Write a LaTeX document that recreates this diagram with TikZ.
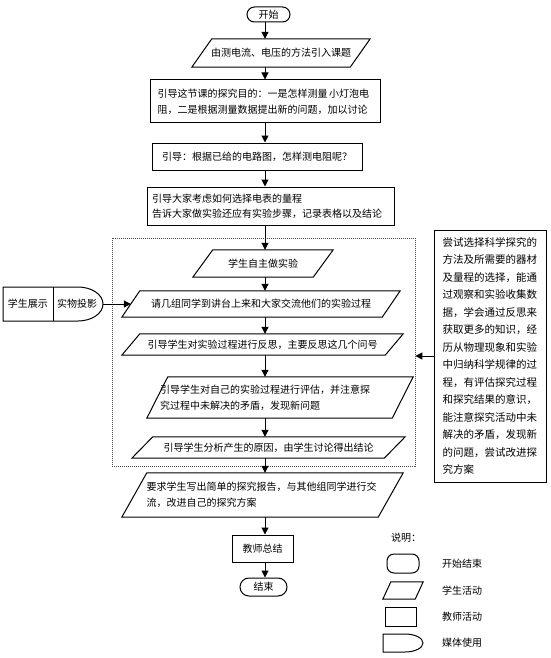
\documentclass[tikz,border=0pt]{standalone}
\usepackage{fontspec}
\setmainfont{Noto Sans CJK SC}
\usetikzlibrary{arrows.meta,shapes.misc}
\newcommand\drawpara[2]{\draw[line width=1pt] ([xshift=-#2pt]#1.south west) -- ([xshift=-#2pt]#1.south east) -- ([xshift=#2pt]#1.north east) -- ([xshift=#2pt]#1.north west) -- cycle;}
\tikzset{
  every node/.style={font=\fontsize{10}{16}\selectfont, inner sep=2pt},
  box/.style={draw, line width=1pt, rectangle},
  term/.style={draw, line width=1pt, rounded rectangle},
  para/.style={rectangle},
  arr/.style={line width=1pt, -{Triangle[length=7pt,width=7pt]}},
  grpbox/.style={draw=black!70, line width=0.8pt, dash pattern=on 1pt off 1pt},
  outline/.style={line width=1pt},
}
\begin{document}
\begin{tikzpicture}[x=1pt,y=-1pt]
\useasboundingbox[fill=white] (0,0) rectangle (550,658);

% dotted group
\node[grpbox, minimum width=303pt, minimum height=228pt] (grp) at (263.5,352) {};

% main flow
\node[term, minimum width=47pt, minimum height=15pt] (start) at (268.5,14.5) {开始};
\node[para, minimum width=158pt, minimum height=28pt] (p1) at (281,53) {由测电流、电压的方法引入课题};
\drawpara{p1}{10}
\node[box, minimum width=230pt, minimum height=43pt, text width=215pt, inner xsep=7.5pt, align=left] (b2) at (265,101.5)
  {引导这节课的探究目的：一是怎样测量\,小灯泡电\\阻，二是根据测量数据提出新的问题，加以讨论};
\node[box, minimum width=210pt, minimum height=27pt] (b3) at (257,156.5) {引导：根据已给的电路图，怎样测电阻呢？};
\node[box, minimum width=247pt, minimum height=38pt, text width=237pt, inner xsep=5pt, align=left, font=\fontsize{10}{15}\selectfont] (b4) at (270.5,206)
  {引导大家考虑如何选择电表的量程\\告诉大家做实验还应有实验步骤，记录表格以及结论};

\node[para, minimum width=120pt, minimum height=27pt] (p2) at (263,263.5) {学生自主做实验};
\drawpara{p2}{10}
\node[para, minimum width=260pt, minimum height=26pt] (p3) at (261,304) {请几组同学到讲台上来和大家交流他们的实验过程};
\drawpara{p3}{9}
\node[para, minimum width=263pt, minimum height=21pt] (p4) at (262.5,344.5) {引导学生对实验过程进行反思，主要反思这几个问号};
\drawpara{p4}{9}
\node[para, minimum width=245pt, minimum height=41pt, text width=240pt, inner xsep=2.5pt, align=left] (p5) at (280,397.5)
  {引导学生对自己的实验过程进行评估，并注意探\\究过程中未解决的矛盾，发现新问题};
\drawpara{p5}{10.5}
\node[para, minimum width=252pt, minimum height=21pt] (p6) at (268.5,447.5) {引导学生分析产生的原因，由学生讨论得出结论};
\drawpara{p6}{10.5}
\node[para, minimum width=256pt, minimum height=44pt, text width=232pt, inner xsep=12pt, align=left] (p7) at (262.5,495)
  {要求学生写出简单的探究报告，与其他组同学进行交\\流，改进自己的探究方案};
\drawpara{p7}{12.5}
\node[box, minimum width=61pt, minimum height=27pt] (b5) at (262.5,548.5) {教师总结};
\node[term, minimum width=51pt, minimum height=18pt] (stop) at (263.5,587) {结束};

% media
\node[minimum width=100pt, minimum height=34pt, inner sep=0pt] (media) at (53,304) {};
\draw[outline] (3,287) -- (78,287) arc[start angle=90,end angle=-90,x radius=25pt,y radius=17pt] -- (3,321) -- cycle;
\draw[outline] (53,287) -- (53,321);
\node (ms1) at (28,304) {学生展示};
\node (ms2) at (77,304) {实物投影};

% explanation box
\node[box, minimum width=112pt, minimum height=252pt, text width=95pt, inner xsep=8.5pt, align=left, font=\fontsize{10.5}{17.5}\selectfont] (expl) at (490,356)
  {尝试选择科学探究的\\方法及所需要的器材\\及量程的选择，能通\\过观察和实验收集数\\据，学会通过反思来\\获取更多的知识，经\\历从物理现象和实验\\中归纳科学规律的过\\程，有评估探究过程\\和探究结果的意识，\\能注意探究活动中未\\解决的矛盾，发现新\\的问题，尝试改进探\\究方案};

% legend
\node[anchor=west] (lgt) at (389,538) {说明：};
\node[draw, line width=1pt, rounded corners=7pt, minimum width=32pt, minimum height=19pt] (lg1) at (403,563.5) {};
\node[para, minimum width=32pt, minimum height=17pt, inner sep=0pt] (lg2) at (403,590.5) {};
\drawpara{lg2}{4}
\node[box, minimum width=31pt, minimum height=19pt] (lg3) at (400.5,616.5) {};
\node[minimum width=40pt, minimum height=18pt, inner sep=0pt] (lg4) at (403,643) {};
\draw[outline] (383,634) -- (405,634) arc[start angle=90,end angle=-90,x radius=18pt,y radius=9pt] -- (383,652) -- cycle;
\node[anchor=west] (l1) at (440,563.5) {开始结束};
\node[anchor=west] (l2) at (440,590.5) {学生活动};
\node[anchor=west] (l3) at (440,616.5) {教师活动};
\node[anchor=west] (l4) at (440,643) {媒体使用};

% connectors
\coordinate (ax) at (265,0);
\foreach \a/\b in {start/p1,p1/b2,b2/b3,b3/b4,b4/p2,p2/p3,p3/p4,p4/p5,p5/p6,p6/p7,p7/b5,b5/stop}
  \draw[arr] (\a.south -| ax) -- (\b.north -| ax);
\draw[arr] (media.east) -- (p3.west);
\draw[arr] (expl.west) -- (expl.west -| grp.east);
\end{tikzpicture}
\end{document}
